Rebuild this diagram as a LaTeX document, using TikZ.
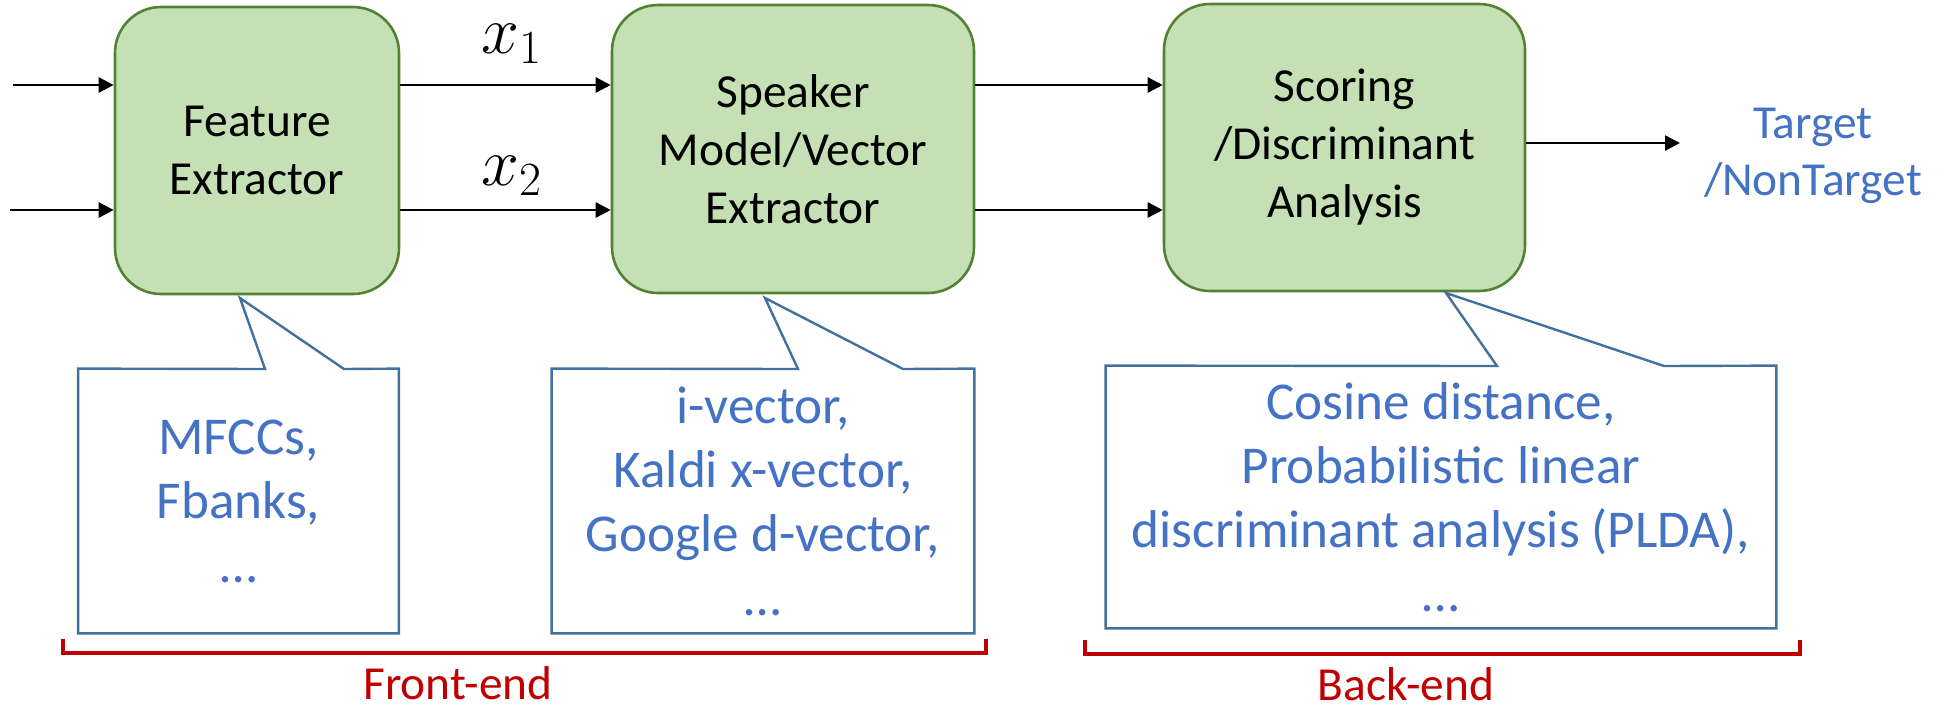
\RequirePackage{fix-cm}
\documentclass[tikz,border=0pt]{standalone}
\usepackage{fontspec}
\setmainfont{Carlito}
\usetikzlibrary{arrows.meta}
\definecolor{boxfill}{HTML}{C5E0B4}
\definecolor{boxline}{HTML}{548235}
\definecolor{noteline}{HTML}{41719C}
\definecolor{notetext}{HTML}{4472C4}
\definecolor{endred}{HTML}{C00000}
\begin{document}
\begin{tikzpicture}[x=0.5pt,y=-0.5pt,
  block/.style={draw=boxline, fill=boxfill, line width=1.3pt, rounded corners=23pt,
    align=center, font=\fontsize{23.7}{29}\selectfont, inner sep=0pt},
  flow/.style={-{Triangle[length=7.5pt,width=7.5pt]}, line width=1.3pt},
  note/.style={align=center, text=notetext, font=\fontsize{26.6}{32}\selectfont, inner sep=0pt},
  noteframe/.style={draw=noteline, line width=1.2pt, line join=miter},
  stagebrace/.style={draw=endred, line width=2.3pt},
  stagelabel/.style={text=endred, font=\fontsize{23.7}{28}\selectfont, inner sep=0pt, anchor=base},
  feat/.style={font=\fontsize{34}{34}\selectfont, inner sep=0pt, anchor=base west}
]
\useasboundingbox (0,0) rectangle (1947,707);

% processing blocks
\node[block, minimum width=142pt, minimum height=143.5pt] (fe) at (257,150.5) {Feature\\Extractor};
\node[block, minimum width=181pt, minimum height=144pt] (sm) at (793,149) {Speaker\\Model/Vector\\Extractor};
\node[block, minimum width=180.5pt, minimum height=143.5pt] (sc) at (1344.5,147.5) {Scoring\\/Discriminant\\Analysis};

% signal paths
\coordinate (inA) at (13,85);
\coordinate (inB) at (10,210);
\coordinate (out) at (1680,143);
\draw[flow] (inA) -- (inA -| fe.west);
\draw[flow] (inB) -- (inB -| fe.west);
\draw[flow] (inA -| fe.east) -- (inA -| sm.west);
\draw[flow] (inB -| fe.east) -- (inB -| sm.west);
\draw[flow] (inA -| sm.east) -- (inA -| sc.west);
\draw[flow] (inB -| sm.east) -- (inB -| sc.west);
\draw[flow] (out -| sc.east) -- (out);

\node[feat] (xa) at (481,53) {$x_1$};
\node[feat] (xb) at (481,185) {$x_2$};

\node[align=center, text=notetext, font=\fontsize{23.7}{28.5}\selectfont, inner sep=0pt] (res) at (1813,156) {Target\\/NonTarget};

% callouts
\node[note, minimum width=160pt, minimum height=132pt] (n1) at (238.5,501) {MFCCs,\\Fbanks,\\…};
\coordinate (t1) at (240,298);
\coordinate (a1) at (265,369);
\coordinate (b1) at (344,369);
\draw[noteframe] (n1.north west) -- (a1) -- (t1) -- (b1) -- (n1.north east)
  -- (n1.south east) -- (n1.south west) -- cycle;

\node[note, minimum width=211pt, minimum height=132pt] (n2) at (763,501) {i-vector,\\Kaldi x-vector,\\Google d-vector,\\…};
\coordinate (t2) at (765,298);
\coordinate (a2) at (798,369);
\coordinate (b2) at (903,369);
\draw[noteframe] (n2.north west) -- (a2) -- (t2) -- (b2) -- (n2.north east)
  -- (n2.south east) -- (n2.south west) -- cycle;

\node[note, minimum width=335pt, minimum height=131pt] (n3) at (1441,497) {Cosine distance,\\Probabilistic linear\\discriminant analysis (PLDA),\\…};
\coordinate (t3) at (1446,293);
\coordinate (a3) at (1497,366);
\coordinate (b3) at (1664,366);
\draw[noteframe] (n3.north west) -- (a3) -- (t3) -- (b3) -- (n3.north east)
  -- (n3.south east) -- (n3.south west) -- cycle;

% stage brackets
\coordinate (fl) at (63,639);
\coordinate (fr) at (986,639);
\draw[stagebrace] (fl) -- ++(0,14) -| (fr);
\node[stagelabel] (fel) at (458,699) {Front-end};

\coordinate (bl) at (1085,640);
\coordinate (br) at (1800,640);
\draw[stagebrace] (bl) -- ++(0,14) -| (br);
\node[stagelabel] (bel) at (1406,700) {Back-end};
\end{tikzpicture}
\end{document}
